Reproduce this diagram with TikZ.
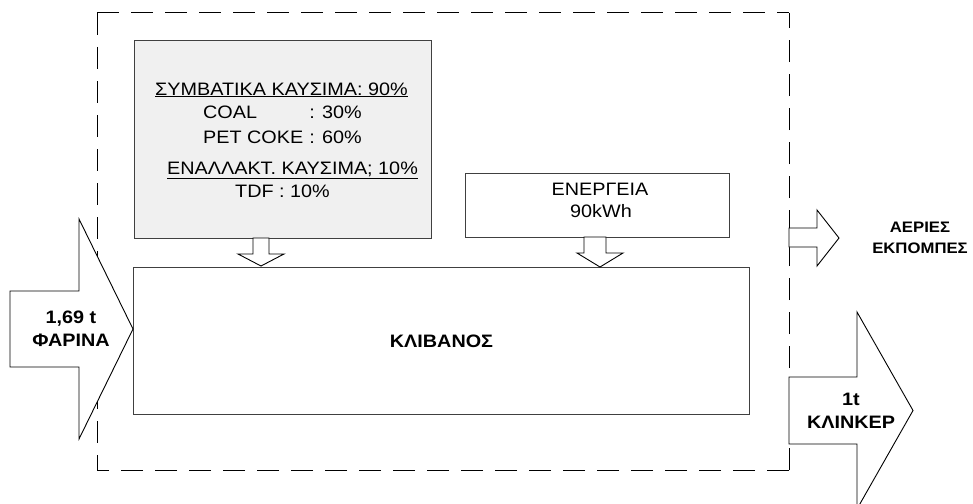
\documentclass[tikz,border=0pt]{standalone}
\usepackage{fontspec}
\setmainfont[FakeStretch=1.1]{Liberation Sans}
\begin{document}
\begin{tikzpicture}[x=1pt,y=-1pt,
  box/.style={draw=black!75, line width=0.9pt, inner sep=0pt, outer sep=0pt},
  blockarrow/.style={draw=black, fill=white, line width=0.9pt, line join=miter},
  frameline/.style={draw=black, line width=1pt, dash pattern=on 22pt off 12pt},
  lbl/.style={inner sep=0pt, anchor=base, font=\fontsize{18}{22}\selectfont},
  blbl/.style={inner sep=0pt, anchor=base, font=\fontsize{18}{22}\selectfont\bfseries},
  slbl/.style={inner sep=0pt, anchor=base, font=\fontsize{15.2}{18}\selectfont\bfseries}]
\useasboundingbox (0,0) rectangle (973,503);
% system boundary
\coordinate (TL) at (97,13);
\coordinate (TR) at (789,13);
\coordinate (BL) at (97,470);
\coordinate (BR) at (789,470);
\draw[frameline] (TL) -- (TR);
\draw[frameline] (TL) -- (BL);
\draw[frameline] (BR) -- (TR);
\draw[frameline] (BR) -- (BL);
% boxes
\node[box, fill=black!6, minimum width=297pt, minimum height=198pt] (fuel) at (282.5,139) {};
\node[box, fill=white, minimum width=264pt, minimum height=64pt] (energy) at (597,205) {};
\node[box, fill=white, minimum width=616pt, minimum height=147pt] (kiln) at (441,340.5) {};
% fuel text
\node[lbl] (f1) at (281.5,95) {\underline{ΣΥΜΒΑΤΙΚΑ ΚΑΥΣΙΜΑ: 90\%}};
\node[lbl, anchor=base west] (f2a) at (203,118) {COAL};
\node[lbl, anchor=base east] (f2b) at (362,118) {: 30\%};
\node[lbl, anchor=base west] (f3a) at (203,143) {PET COKE};
\node[lbl, anchor=base east] (f3b) at (362,143) {: 60\%};
\node[lbl] (f4) at (292.5,174) {\underline{ΕΝΑΛΛΑΚΤ. ΚΑΥΣΙΜΑ; 10\%}};
\node[lbl] (f5) at (282.5,197) {TDF : 10\%};
% energy text
\node[lbl] (e1) at (600,195) {ΕΝΕΡΓΕΙΑ};
\node[lbl] (e2) at (601,217) {90kWh};
% kiln text
\node[blbl] (k1) at (441.5,347) {ΚΛΙΒΑΝΟΣ};
% down arrows
\draw[blockarrow] (253,238) -- (269,238) -- (269,254) -- (284,254) -- (261,266) -- (238,254) -- (253,254) -- cycle;
\draw[blockarrow] (584,237) -- (606,237) -- (606,253) -- (623,253) -- (600,267) -- (577,253) -- (584,253) -- cycle;
% input arrow
\draw[blockarrow] (10,291) -- (79,291) -- (79,219) -- (133,329) -- (79,439) -- (79,367) -- (10,367) -- cycle;
\node[blbl] (in1) at (71,323) {1,69 t};
\node[blbl] (in2) at (71,346) {ΦΑΡΙΝΑ};
% clinker arrow
\draw[blockarrow] (789,377) -- (857,377) -- (857,312) -- (913,410.5) -- (857,509) -- (857,444) -- (789,444) -- cycle;
\node[blbl] (out1) at (851,405) {1t};
\node[blbl] (out2) at (851,428) {ΚΛΙΝΚΕΡ};
% emissions arrow
\draw[blockarrow] (789,228) -- (817,228) -- (817,210) -- (839,238) -- (817,266) -- (817,247) -- (789,247) -- cycle;
\node[slbl] (em1) at (920,232) {ΑΕΡΙΕΣ};
\node[slbl] (em2) at (920,253) {ΕΚΠΟΜΠΕΣ};
\end{tikzpicture}
\end{document}
